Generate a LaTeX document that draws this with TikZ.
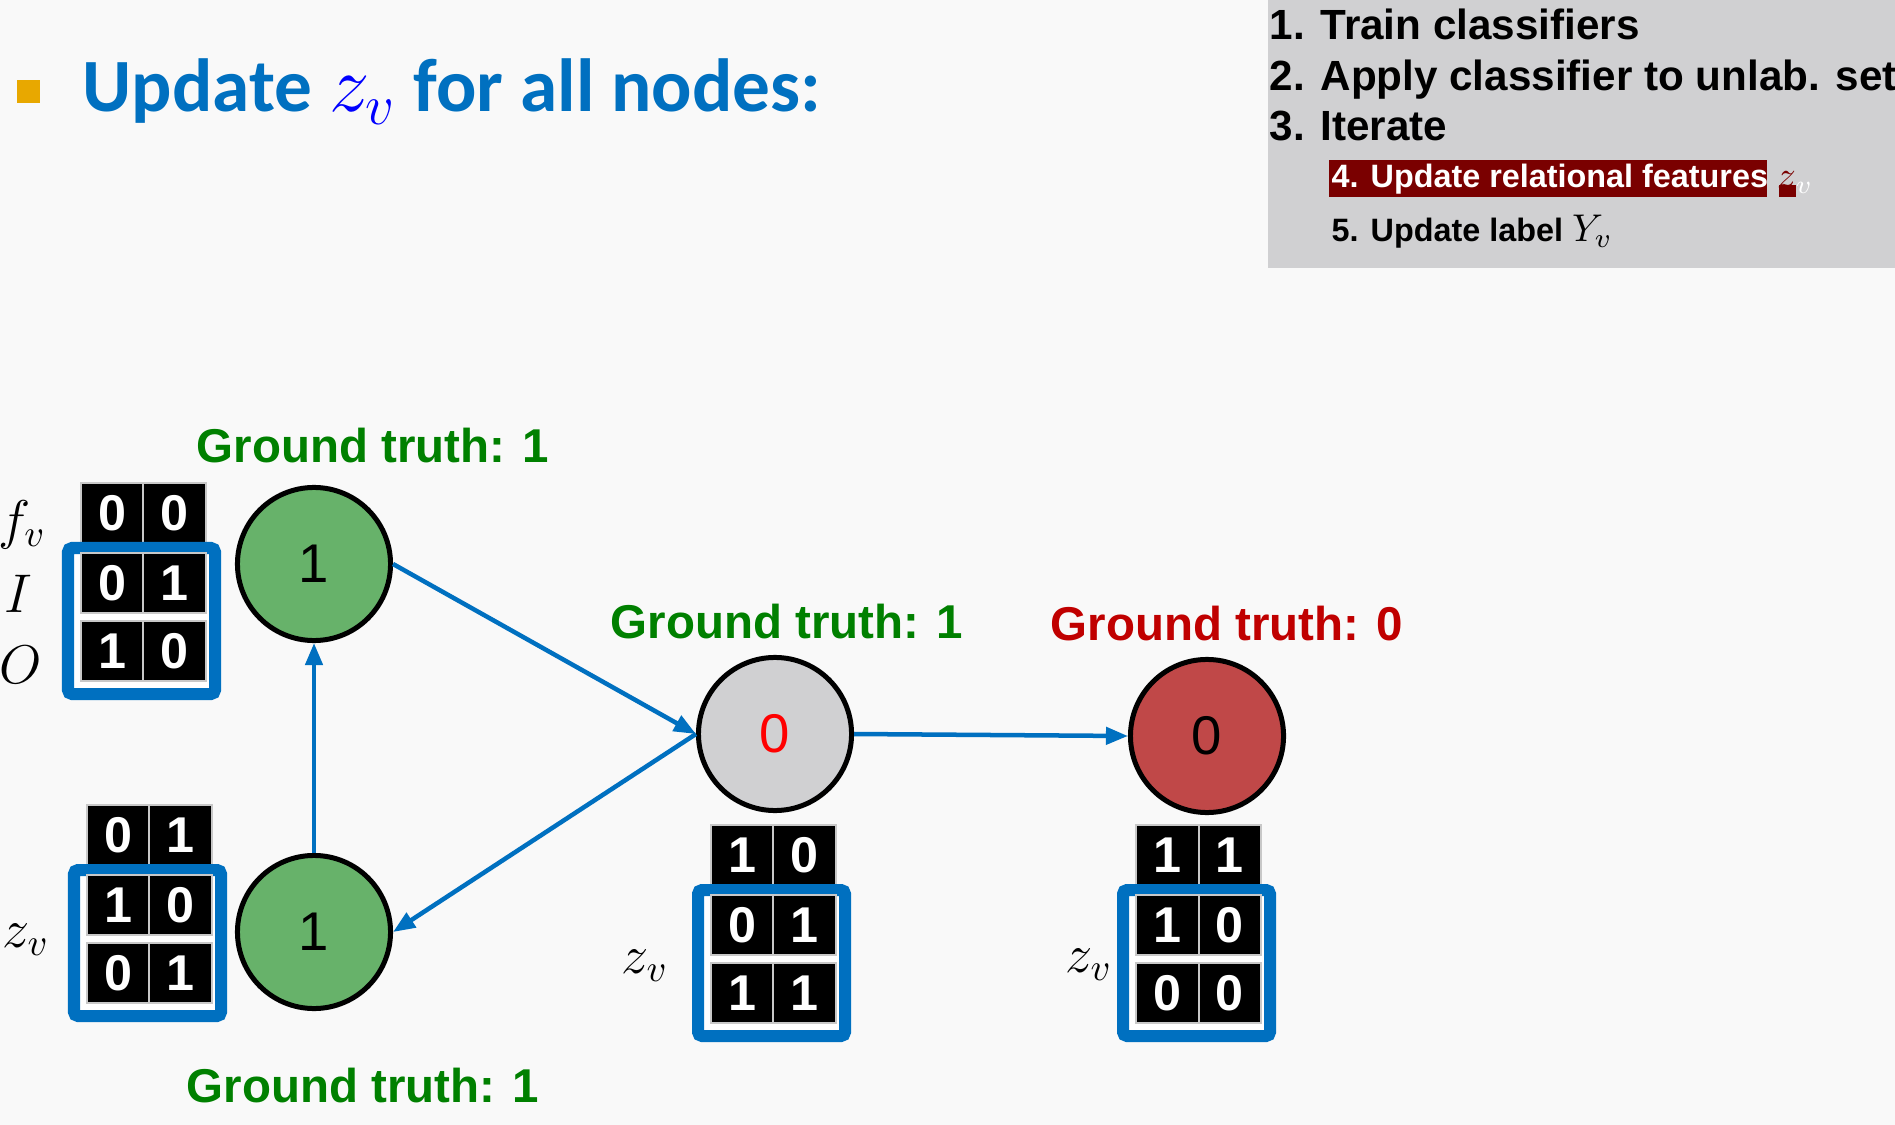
\RequirePackage{fix-cm}
\documentclass[tikz,border=0pt]{standalone}
\usepackage{fontspec}
\setmainfont{Liberation Sans}
\newfontfamily\titlefont{Carlito}
\usetikzlibrary{arrows.meta}

\definecolor{pagebg}{RGB}{249,249,249}
\definecolor{slideblue}{RGB}{0,112,192}
\definecolor{bulletgold}{RGB}{232,168,0}
\definecolor{panelgray}{RGB}{208,208,210}
\definecolor{hlred}{RGB}{122,0,0}
\definecolor{nodegreen}{RGB}{103,178,106}
\definecolor{nodegray}{RGB}{208,208,210}
\definecolor{nodered}{RGB}{192,72,72}
\definecolor{gtgreen}{RGB}{0,128,0}
\definecolor{gtred}{RGB}{192,0,0}
\definecolor{cellline}{RGB}{200,200,200}

\newcommand\fsz[1]{\fontsize{#1}{#1}\selectfont}

% feature grid: #1 name, #2 x, #3 y (top-left of first row), #4..#9 digits row by row
\newcommand\featgrid[9]{%
  \node[cellbox] (#1-11) at (#2+31.25,#3+30) {#4};
  \node[cellbox] (#1-12) at (#2+93.75,#3+30) {#5};
  \draw[zframe] (#2-13,#3+65) rectangle (#2+134,#3+211);
  \node[cellbox] (#1-21) at (#2+31.25,#3+100) {#6};
  \node[cellbox] (#1-22) at (#2+93.75,#3+100) {#7};
  \node[cellbox] (#1-31) at (#2+31.25,#3+168) {#8};
  \node[cellbox] (#1-32) at (#2+93.75,#3+168) {#9};
}

\begin{document}
\begin{tikzpicture}[x=0.01cm, y=-0.01cm,
  vtx/.style={circle, draw=black, line width=0.05cm, minimum size=1.53cm,
    inner sep=0pt, font=\fsz{15.5}},
  edge/.style={draw=slideblue, line width=0.045cm,
    -{Triangle[length=0.22cm, width=0.17cm]}},
  gt/.style={anchor=base west, inner sep=0pt, font=\bfseries\fsz{13.5}},
  cellbox/.style={fill=black, draw=cellline, line width=0.02cm,
    minimum width=0.625cm, minimum height=0.6cm, inner sep=0pt,
    text=white, font=\bfseries\fsz{14.3}},
  zframe/.style={draw=slideblue, line width=0.12cm, fill=white,
    rounded corners=0.04cm},
  steptext/.style={anchor=base west, inner sep=0pt, font=\bfseries\fsz{12}},
  substeptext/.style={anchor=base west, inner sep=0pt, font=\bfseries\fsz{9.2}},
  rowlabel/.style={inner sep=0pt, font=\fsz{15.5}}]

\useasboundingbox (0,0) rectangle (1895,1125);
\fill[pagebg] (0,0) rectangle (1895,1125);

% heading
\node[fill=bulletgold, minimum size=0.23cm, inner sep=0pt] (bullet) at (28.5,91.5) {};
\node[anchor=base west, inner sep=0pt, text=slideblue,
  font=\titlefont\bfseries\fsz{21.4}] (title) at (82,112)
  {Update {\color{blue}\fsz{23}$z_v$} for all nodes:};

% algorithm steps panel
\fill[panelgray] (1268,0) rectangle (1895,268);
\node[steptext] (s1) at (1269,40) {1. Train classifiers};
\node[steptext] (s2) at (1269,91) {2. Apply classifier to unlab. set};
\node[steptext] (s3) at (1269,141) {3. Iterate};
\fill[hlred] (1329,160) rectangle (1767,197);
\fill[hlred] (1779,185) rectangle (1796,197);
\node[substeptext, text=white] (s4) at (1331,188)
  {4. Update relational features \mdseries\fsz{10.5}$\textcolor{hlred}{z}_v$};
\node[substeptext] (s5) at (1331,242) {5. Update label \mdseries\fsz{11}$Y_v$};

% graph nodes
\node[vtx, fill=nodegreen] (u1) at (314,564) {1};
\node[vtx, fill=nodegreen] (u2) at (314,932) {1};
\node[vtx, fill=nodegray, text=red] (u3) at (775,734) {0};
\node[vtx, fill=nodered] (u4) at (1207,736) {0};

% edges
\draw[edge] (u1.east) -- (u3.west);
\draw[edge] (u3.west) -- (u2.east);
\draw[edge] (u2.north) -- (u1.south);
\draw[edge] (u3.east) -- (u4.west);

% ground-truth labels
\node[gt, text=gtgreen] (g1) at (196,463) {Ground truth: 1};
\node[gt, text=gtgreen] (g3) at (610,638) {Ground truth: 1};
\node[gt, text=gtred] (g4) at (1050,640) {Ground truth: 0};
\node[gt, text=gtgreen] (g2) at (186,1102) {Ground truth: 1};

% feature grids
\featgrid{fa}{81}{483}{0}{0}{0}{1}{1}{0}
\featgrid{fb}{87}{805}{0}{1}{1}{0}{0}{1}
\featgrid{fc}{711}{825}{1}{0}{0}{1}{1}{1}
\featgrid{fd}{1136}{825}{1}{1}{1}{0}{0}{0}

% row labels
\node[rowlabel] (lf) at (22,525) {$f_v$};
\node[rowlabel] (li) at (18,594) {$I$};
\node[rowlabel] (lo) at (21,665) {$O$};
\node[rowlabel] (zb) at (26,940) {$z_v$};
\node[rowlabel] (zc) at (645,966) {$z_v$};
\node[rowlabel] (zd) at (1089,965) {$z_v$};

\end{tikzpicture}
\end{document}
